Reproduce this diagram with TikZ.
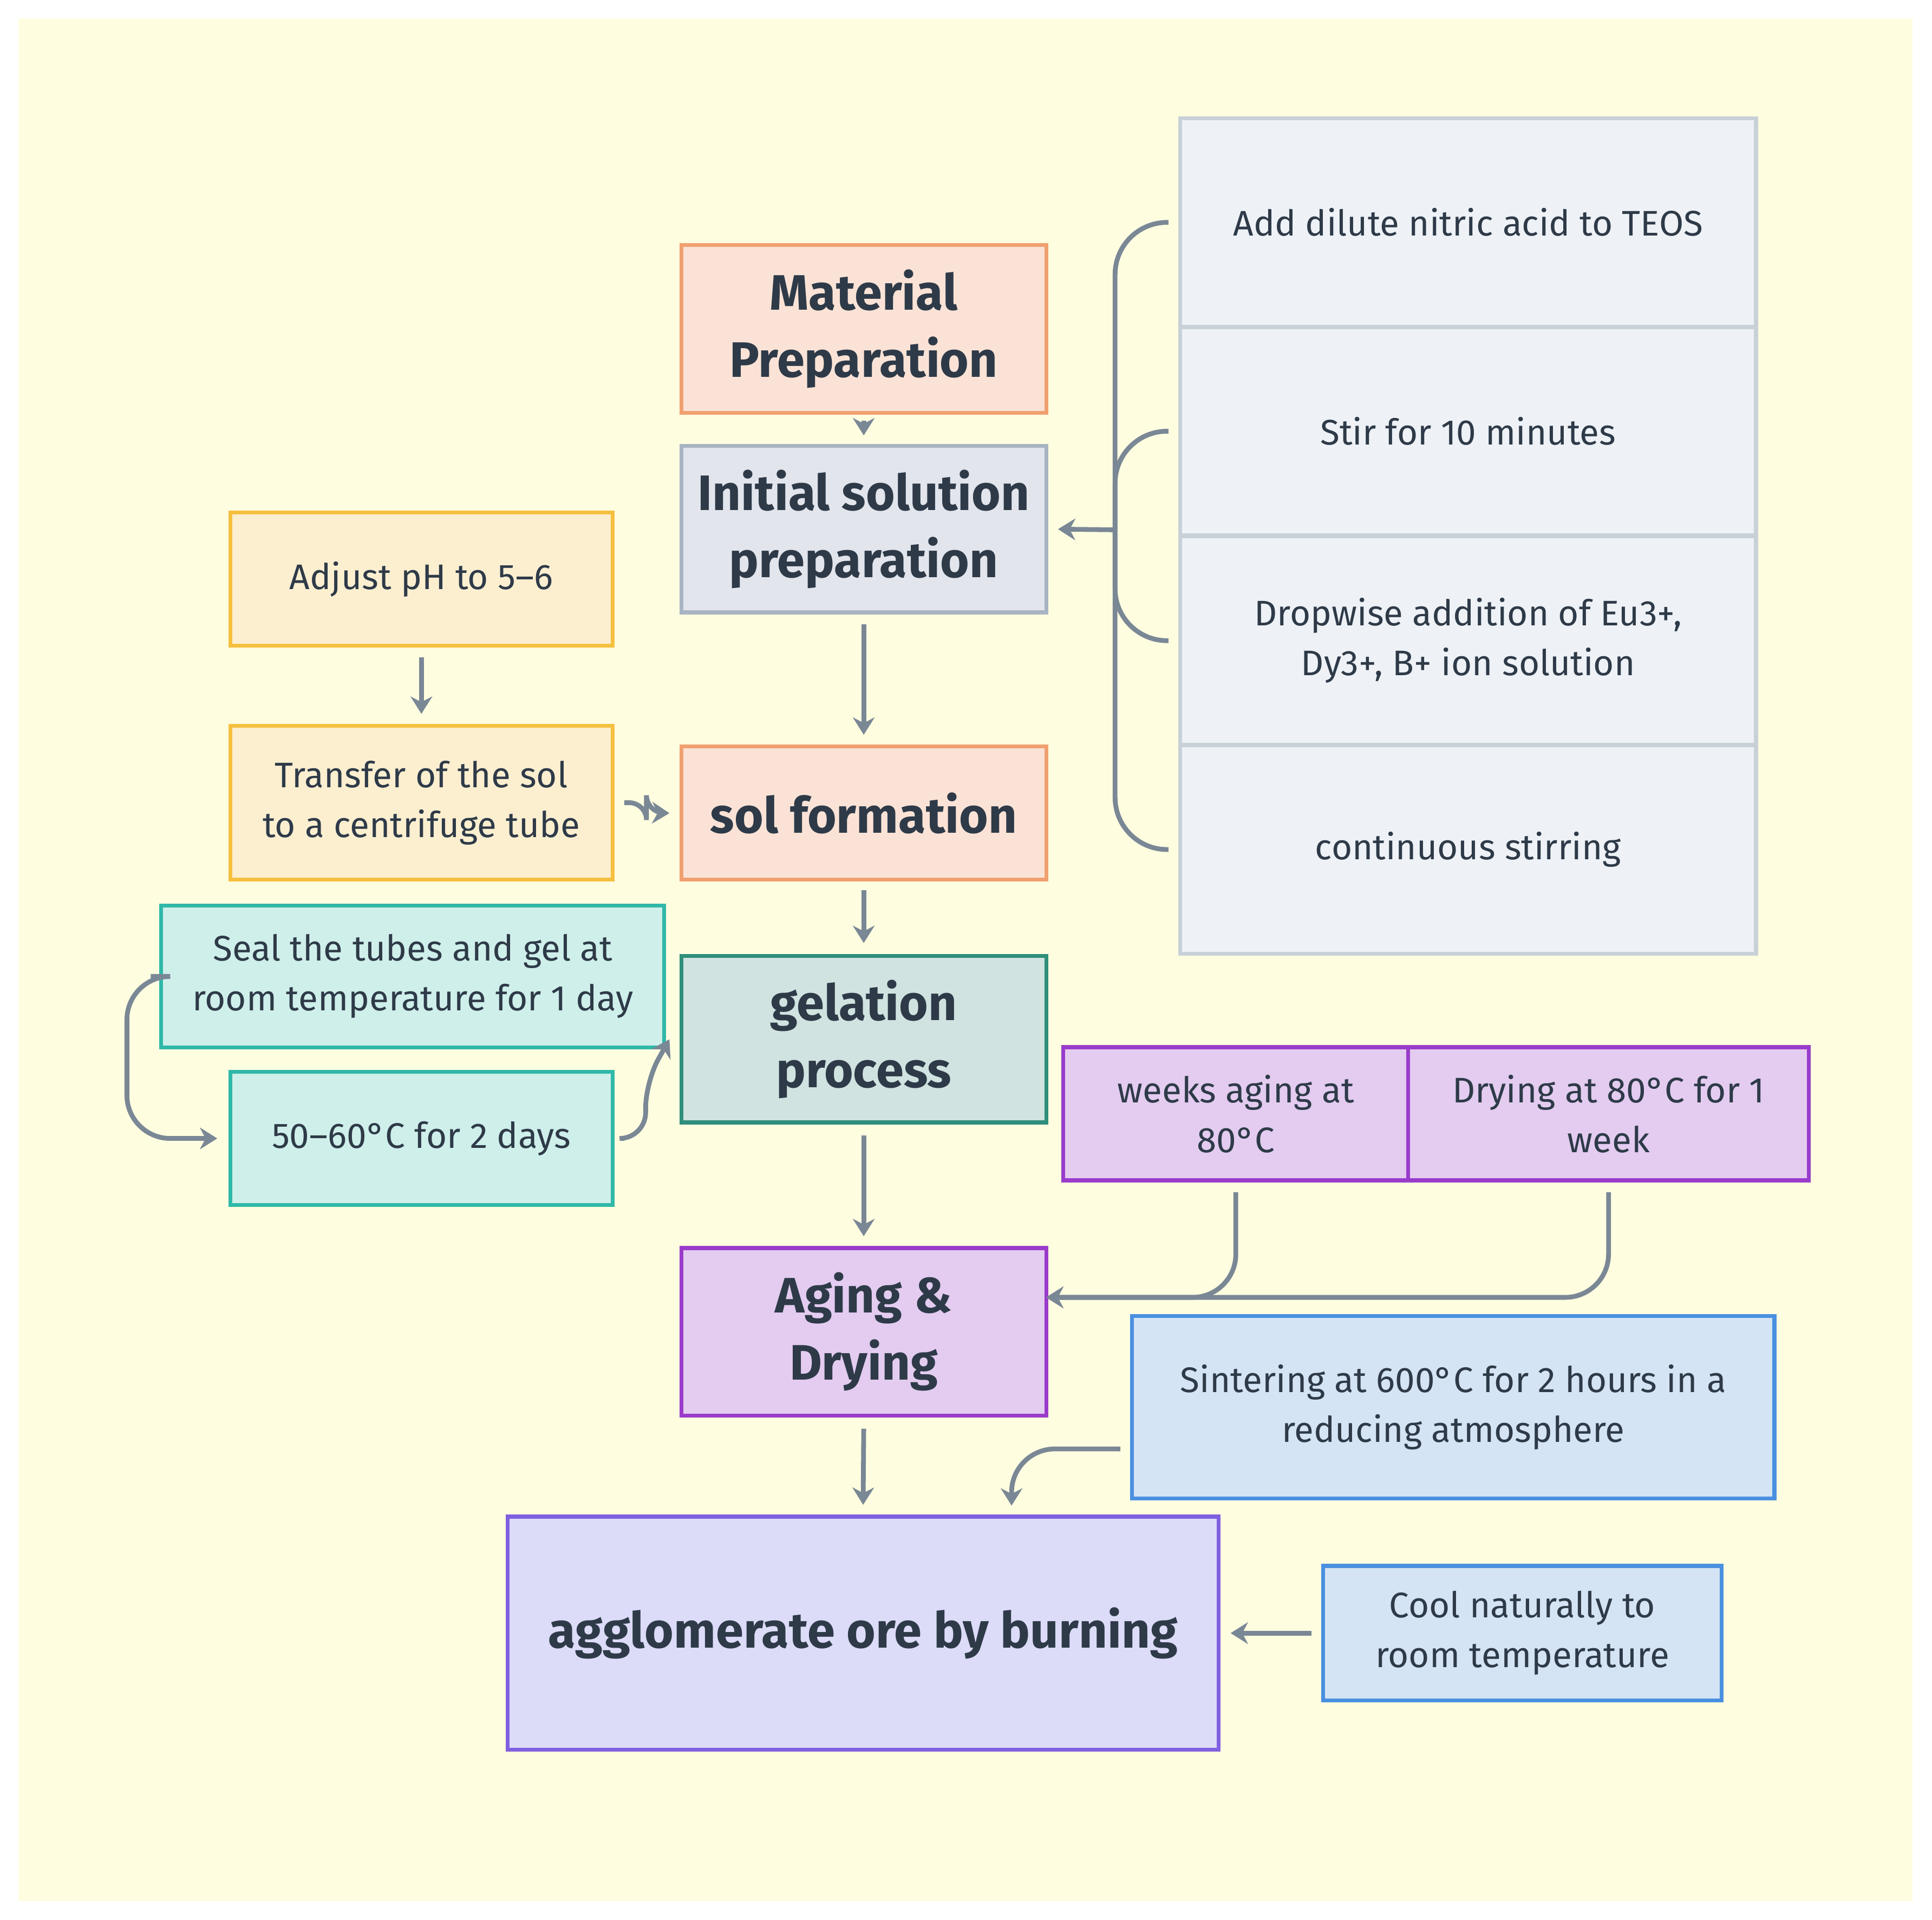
\documentclass[tikz,border=0pt]{standalone}
\usepackage{fontspec}
\setmainfont{Fira Sans}
\usetikzlibrary{arrows.meta,calc}
\definecolor{bg}{HTML}{FFFDE0}
\definecolor{ln}{HTML}{7A8795}
\definecolor{txt}{HTML}{2E3A48}
\definecolor{orF}{HTML}{FAE3D6}\definecolor{orD}{HTML}{F0A070}
\definecolor{grF}{HTML}{E2E5EC}\definecolor{grD}{HTML}{A9B4C2}
\definecolor{teF}{HTML}{D0E3E0}\definecolor{teD}{HTML}{2F8F7A}
\definecolor{puF}{HTML}{E3CCF0}\definecolor{puD}{HTML}{9A3CCB}
\definecolor{laF}{HTML}{DCDBF8}\definecolor{laD}{HTML}{8060E0}
\definecolor{ltF}{HTML}{EEF2F6}\definecolor{ltD}{HTML}{C8D0D8}
\definecolor{yeF}{HTML}{FCEFD0}\definecolor{yeD}{HTML}{F5C040}
\definecolor{cyF}{HTML}{CFEFEA}\definecolor{cyD}{HTML}{30B8A8}
\definecolor{blF}{HTML}{D4E4F4}\definecolor{blD}{HTML}{4A90E0}
\begin{document}
\begin{tikzpicture}[x=0.01cm,y=-0.01cm,
  box/.style={rectangle,line width=0.9pt,align=center,text=txt,inner sep=0pt},
  big/.style={box,font=\bfseries\fontsize{11.5}{15.5}\selectfont},
  sm/.style={box,font=\fontsize{8.2}{11.5}\selectfont},
  con/.style={draw=ln,line width=1.1pt,rounded corners=6pt,-{Stealth[length=4pt,width=5pt]}},
  brc/.style={draw=ln,line width=1.1pt,rounded corners=12pt}]
\fill[white] (0,0) rectangle (1568,1558);
\fill[bg] (15,15) rectangle (1552,1543);
\useasboundingbox (0,0) rectangle (1568,1558);
% main column
\node[big,fill=orF,draw=orD,minimum width=2.96cm,minimum height=1.36cm] (mat) at (701,267) {Material\\Preparation};
\node[big,fill=grF,draw=grD,minimum width=2.96cm,minimum height=1.35cm] (init) at (701,429.5) {Initial solution\\preparation};
\node[big,fill=orF,draw=orD,minimum width=2.96cm,minimum height=1.08cm] (sol) at (701,660) {sol formation};
\node[big,fill=teF,draw=teD,minimum width=2.96cm,minimum height=1.35cm] (gel) at (701,843.5) {gelation\\process};
\node[big,fill=puF,draw=puD,minimum width=2.96cm,minimum height=1.36cm] (age) at (701,1081) {Aging \&\\Drying};
\node[big,fill=laF,draw=laD,minimum width=5.77cm,minimum height=1.89cm] (agg) at (700.5,1325.5) {agglomerate ore by burning};
% right column
\node[sm,fill=ltF,draw=ltD,minimum width=4.67cm,minimum height=1.69cm] (r1) at (1191.5,180.5) {Add dilute nitric acid to TEOS};
\node[sm,fill=ltF,draw=ltD,minimum width=4.67cm,minimum height=1.69cm] (r2) at (1191.5,350) {Stir for 10 minutes};
\node[sm,fill=ltF,draw=ltD,minimum width=4.67cm,minimum height=1.69cm] (r3) at (1191.5,520) {Dropwise addition of Eu3+,\\Dy3+, B+ ion solution};
\node[sm,fill=ltF,draw=ltD,minimum width=4.67cm,minimum height=1.69cm] (r4) at (1191.5,689.5) {continuous stirring};
% left column
\node[sm,fill=yeF,draw=yeD,minimum width=3.10cm,minimum height=1.08cm] (adj) at (342,470) {Adjust pH to 5--6};
\node[sm,fill=yeF,draw=yeD,minimum width=3.10cm,minimum height=1.25cm] (tr) at (342,651.5) {Transfer of the sol\\to a centrifuge tube};
\node[sm,fill=cyF,draw=cyD,minimum width=4.08cm,minimum height=1.15cm] (seal) at (335,792.5) {Seal the tubes and gel at\\room temperature for 1 day};
\node[sm,fill=cyF,draw=cyD,minimum width=3.10cm,minimum height=1.08cm] (d50) at (342,924) {50--60°C for 2 days};
% lower right
\node[sm,fill=puF,draw=puD,minimum width=2.80cm,minimum height=1.08cm] (wk) at (1003,904) {weeks aging at\\80°C};
\node[sm,fill=puF,draw=puD,minimum width=3.25cm,minimum height=1.08cm] (dry) at (1305.5,904) {Drying at 80°C for 1\\week};
\node[sm,fill=blF,draw=blD,minimum width=5.21cm,minimum height=1.48cm] (sin) at (1179.5,1142) {Sintering at 600°C for 2 hours in a\\reducing atmosphere};
\node[sm,fill=blF,draw=blD,minimum width=3.23cm,minimum height=1.09cm] (cool) at (1235.5,1325.5) {Cool naturally to\\room temperature};
% connectors main
\draw[con] ($(mat.south)+(0,5)$) -- ($(init.north)+(0,-7)$);
\draw[con] ($(init.south)+(0,8)$) -- ($(sol.north)+(0,-8)$);
\draw[con] ($(sol.south)+(0,7)$) -- ($(gel.north)+(0,-9)$);
\draw[con] ($(gel.south)+(0,9)$) -- ($(age.north)+(0,-8)$);
\draw[con] ($(age.south)+(0,9)$) -- ($(agg.north)+(0,-8)$);
% brace
\coordinate (bj) at (905,430);
\draw[brc] ($(r1.west)+(-8,0)$) -- (905,180.5) -- (905,430);
\draw[brc] ($(r2.west)+(-8,0)$) -- (905,350) -- (905,430);
\draw[brc] ($(r3.west)+(-8,0)$) -- (905,520) -- (905,430);
\draw[brc] ($(r4.west)+(-8,0)$) -- (905,689.5) -- (905,430);
\draw[con] (bj) -- ($(init.east)+(8,0)$);
% left
\draw[con] ($(adj.south)+(0,8)$) -- ($(tr.north)+(0,-8)$);
\draw[con,rounded corners=4pt] ($(tr.east)+(8,0)$) -- ++(18,0) -- ++(0,8) -- ($(sol.west)+(-8,0)$);
\draw[con,rounded corners=10pt] ($(seal.west)+(-7,0)$) -- (103,792.5) -- (103,924) -- ($(d50.west)+(-9,0)$);
\draw[con,rounded corners=6pt] ($(d50.east)+(8,0)$) -- (524,924) -- (524,878) -- ($(gel.west)+(-8,0)$);
% lower right
\draw[con,rounded corners=10pt] ($(wk.south)+(0,8)$) -- (1003,1053) -- (849,1053);
\draw[con,rounded corners=10pt] ($(dry.south)+(0,8)$) -- (1305.5,1053) -- (849,1053);
\draw[con,rounded corners=10pt] ($(sin.west)+(-8,34)$) -- (821,1176) -- (821,1222);
\draw[con] ($(cool.west)+(-8,0)$) -- ($(agg.east)+(8,0)$);
\end{tikzpicture}
\end{document}
